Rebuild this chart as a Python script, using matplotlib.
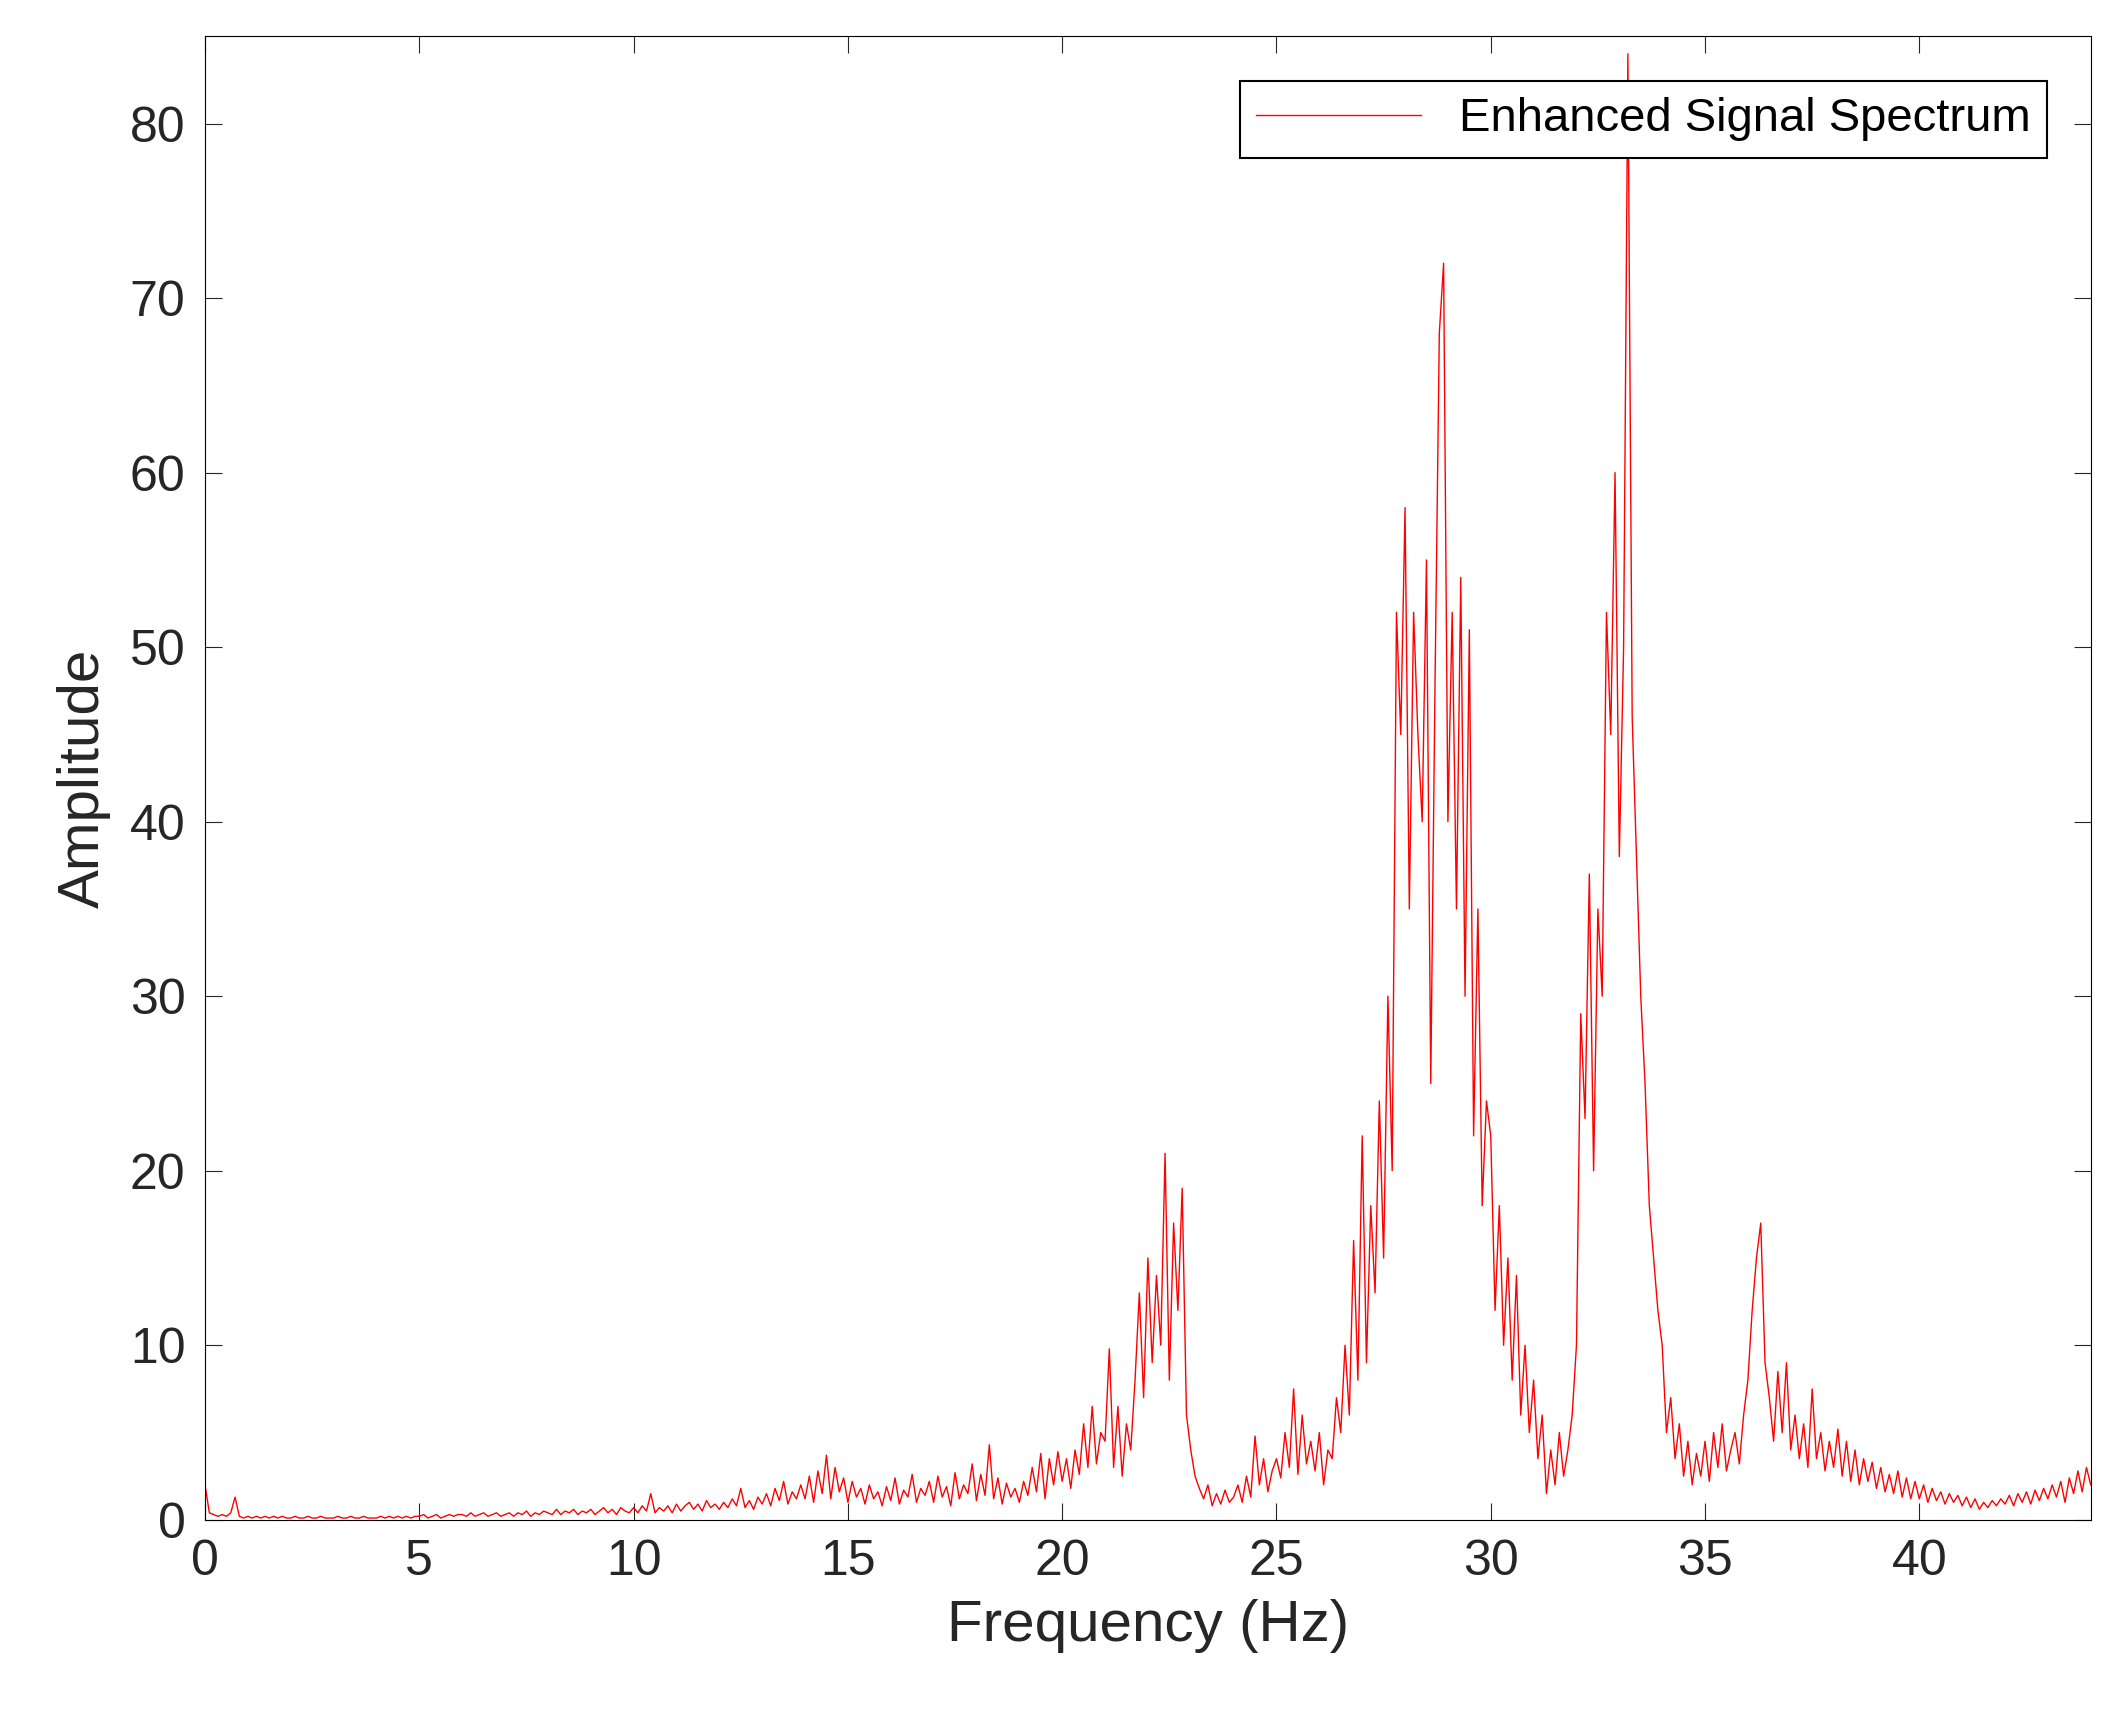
import numpy as np
import matplotlib
matplotlib.use("Agg")
import matplotlib.pyplot as plt

rows = [
[2.0,0.4,0.3,0.2,0.3,0.2,0.4,1.3,0.2,0.1],
[0.2,0.1,0.2,0.1,0.2,0.1,0.2,0.1,0.2,0.1],
[0.1,0.2,0.1,0.1,0.2,0.1,0.1,0.2,0.1,0.1],
[0.1,0.2,0.1,0.1,0.2,0.1,0.1,0.2,0.1,0.1],
[0.1,0.2,0.1,0.2,0.1,0.2,0.1,0.2,0.1,0.2],
[0.2,0.3,0.1,0.2,0.3,0.1,0.2,0.3,0.2,0.3],
[0.3,0.2,0.4,0.2,0.3,0.4,0.2,0.3,0.4,0.2],
[0.3,0.4,0.2,0.4,0.3,0.5,0.2,0.4,0.3,0.5],
[0.4,0.3,0.6,0.3,0.5,0.4,0.6,0.3,0.5,0.4],
[0.6,0.3,0.5,0.7,0.4,0.6,0.3,0.7,0.5,0.4],
[0.7,0.4,0.8,0.5,1.5,0.4,0.7,0.5,0.8,0.4],
[0.9,0.5,0.8,1.0,0.6,0.9,0.5,1.1,0.7,0.9],
[0.6,1.0,0.7,1.2,0.8,1.8,0.7,1.1,0.6,1.3],
[0.9,1.5,0.8,1.8,1.1,2.2,0.9,1.6,1.2,2.0],
[1.2,2.5,1.0,2.8,1.5,3.7,1.2,3.0,1.6,2.4],
[1.0,2.2,1.3,1.8,0.9,2.0,1.2,1.6,0.8,1.9],
[1.1,2.4,0.9,1.7,1.3,2.6,1.0,1.8,1.4,2.2],
[1.0,2.5,1.3,1.9,0.8,2.7,1.2,2.0,1.5,3.2],
[1.1,2.6,1.4,4.3,1.2,2.4,0.9,2.1,1.3,1.8],
[1.0,2.2,1.4,3.0,1.6,3.8,1.2,3.5,2.0,3.9],
[2.2,3.5,1.8,4.0,2.6,5.5,3.0,6.5,3.2,5.0],
[4.5,9.8,3.0,6.5,2.5,5.5,4.0,8.0,13.0,7.0],
[15.0,9.0,14.0,10.0,21.0,8.0,17.0,12.0,19.0,6.0],
[4.0,2.5,1.8,1.2,2.0,0.8,1.5,0.9,1.7,1.0],
[1.3,2.0,1.0,2.5,1.3,4.8,2.0,3.5,1.6,2.8],
[3.5,2.4,5.0,3.0,7.5,2.6,6.0,3.2,4.5,2.8],
[5.0,2.0,4.0,3.5,7.0,5.0,10.0,6.0,16.0,8.0],
[22.0,9.0,18.0,13.0,24.0,15.0,30.0,20.0,52.0,45.0],
[58.0,35.0,52.0,45.0,40.0,55.0,25.0,48.0,68.0,72.0],
[40.0,52.0,35.0,54.0,30.0,51.0,22.0,35.0,18.0,24.0],
[22.0,12.0,18.0,10.0,15.0,8.0,14.0,6.0,10.0,5.0],
[8.0,3.5,6.0,1.5,4.0,2.0,5.0,2.5,4.0,6.0],
[10.0,29.0,23.0,37.0,20.0,35.0,30.0,52.0,45.0,60.0],
[38.0,50.0,84.0,46.0,38.0,30.0,25.0,18.0,15.0,12.0],
[10.0,5.0,7.0,3.5,5.5,2.5,4.5,2.0,3.8,2.5],
[4.5,2.2,5.0,3.0,5.5,2.8,4.0,5.0,3.2,6.0],
[8.0,12.0,15.0,17.0,9.0,7.0,4.5,8.5,5.0,9.0],
[4.0,6.0,3.5,5.5,3.0,7.5,3.5,5.0,2.8,4.5],
[3.0,5.2,2.5,4.5,2.2,4.0,2.0,3.5,2.2,3.3],
[1.8,3.0,1.6,2.6,1.5,2.8,1.3,2.4,1.2,2.2],
[1.2,2.0,1.0,1.8,1.1,1.6,0.9,1.5,1.0,1.4],
[0.8,1.3,0.7,1.2,0.6,1.0,0.7,1.1,0.8,1.2],
[0.9,1.4,0.8,1.5,1.0,1.6,0.9,1.7,1.1,1.8],
[1.2,2.0,1.3,2.2,1.0,2.4,1.5,2.8,1.6,3.0],
[2.0],
]
amplitude = np.array([v for r in rows for v in r])
frequency = np.arange(len(amplitude)) * 0.1

xticks = [0, 5, 10, 15, 20, 25, 30, 35, 40]
yticks = [0, 10, 20, 30, 40, 50, 60, 70, 80]

plt.rcParams["font.family"] = "Liberation Sans"
fig = plt.figure(figsize=(21.14, 17.29), dpi=100)
ax = fig.add_axes([0.097, 0.121, 0.892, 0.858])
ax.plot(frequency, amplitude, color="red", lw=1.0, label="Enhanced Signal Spectrum")
ax.set_xlim(0, 44)
ax.set_ylim(0, 85)
ax.set_xticks(xticks)
ax.set_yticks(yticks)
ax.tick_params(direction="in", top=True, right=True, labelsize=36, length=12, pad=14, colors="#262626")
ax.set_xlabel("Frequency (Hz)", fontsize=42, color="#262626", labelpad=10)
ax.set_ylabel("Amplitude", fontsize=42, color="#262626", labelpad=14)
leg = ax.legend(loc="upper right", fontsize=34, fancybox=False, edgecolor="black", framealpha=1,
                handlelength=3.5, bbox_to_anchor=(0.977, 0.97), borderaxespad=0, borderpad=0.35)
leg.get_frame().set_linewidth(1.5)
fig.savefig("out.png", dpi=100)
